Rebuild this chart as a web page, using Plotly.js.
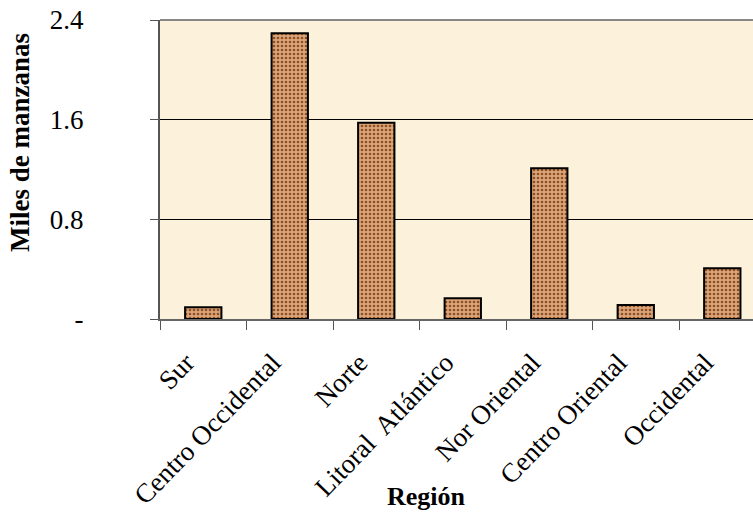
<!DOCTYPE html>
<html>
<head>
<meta charset="utf-8">
<script src="https://cdn.plot.ly/plotly-3.0.1.min.js"></script>
<style>html,body{margin:0;padding:0;background:#fff;}#chart{width:753px;height:512px;}</style>
</head>
<body>
<div id="chart"></div>
<script>
const categories = ["Sur", "Centro Occidental", "Norte", "Litoral  Atlántico", "Nor Oriental", "Centro Oriental", "Occidental"];
const values = [0.094, 2.293, 1.576, 0.166, 1.21, 0.112, 0.407];
const yTickVals = [0, 0.8, 1.6, 2.4];
const yTickText = ["-", "0.8", "1.6", "2.4"];
const xTitle = "Región";
const yTitle = "Miles de manzanas";

const serif = "Liberation Serif, Times New Roman, serif";

const trace = {
  type: "bar",
  x: categories,
  y: values,
  marker: {
    color: "#c99168",
    line: {color: "#000000", width: 2},
    pattern: {shape: ".", fgcolor: "#8e4f24", bgcolor: "#daa578", size: 4, solidity: 0.35}
  },
  hoverinfo: "x+y"
};

const layout = {
  width: 753,
  height: 512,
  margin: {l: 160, r: 0, t: 20, b: 193},
  paper_bgcolor: "#ffffff",
  plot_bgcolor: "#fcf1da",
  showlegend: false,
  bargap: 0.58,
  xaxis: {
    type: "category",
    range: [-0.5, 6.355],
    tickson: "boundaries",
    ticks: "outside",
    ticklen: 9,
    tickwidth: 1,
    tickcolor: "#555555",
    showline: true,
    linecolor: "#666666",
    linewidth: 2,
    showgrid: false,
    tickangle: -46,
    ticklabelshift: -17,
    ticklabelstandoff: 15,
    tickfont: {family: serif, size: 27, color: "#000000"},
    fixedrange: true
  },
  yaxis: {
    range: [0, 2.4],
    tickvals: yTickVals,
    ticktext: yTickText,
    ticks: "outside",
    ticklen: 8,
    tickwidth: 1,
    tickcolor: "#555555",
    showline: true,
    linecolor: "#555555",
    linewidth: 2,
    showgrid: true,
    gridcolor: "#000000",
    gridwidth: 1,
    zeroline: false,
    ticklabelstandoff: 61,
    tickfont: {family: serif, size: 27, color: "#000000"},
    fixedrange: true
  },
  shapes: [
    {type: "line", xref: "paper", yref: "paper", x0: 0, x1: 1, y0: 1, y1: 1, line: {color: "#888888", width: 2}}
  ],
  annotations: [
    {text: "<b>" + xTitle + "</b>", xref: "paper", yref: "paper", x: 0.449, y: -0.592, xanchor: "center", yanchor: "middle", showarrow: false, font: {family: serif, size: 26, color: "#000000"}},
    {text: "<b>" + yTitle + "</b>", xref: "paper", yref: "paper", x: -0.236, y: 0.589, xanchor: "center", yanchor: "middle", textangle: -90, showarrow: false, font: {family: serif, size: 27, color: "#000000"}}
  ]
};

Plotly.newPlot("chart", [trace], layout, {displayModeBar: false, staticPlot: true});
</script>
</body>
</html>
